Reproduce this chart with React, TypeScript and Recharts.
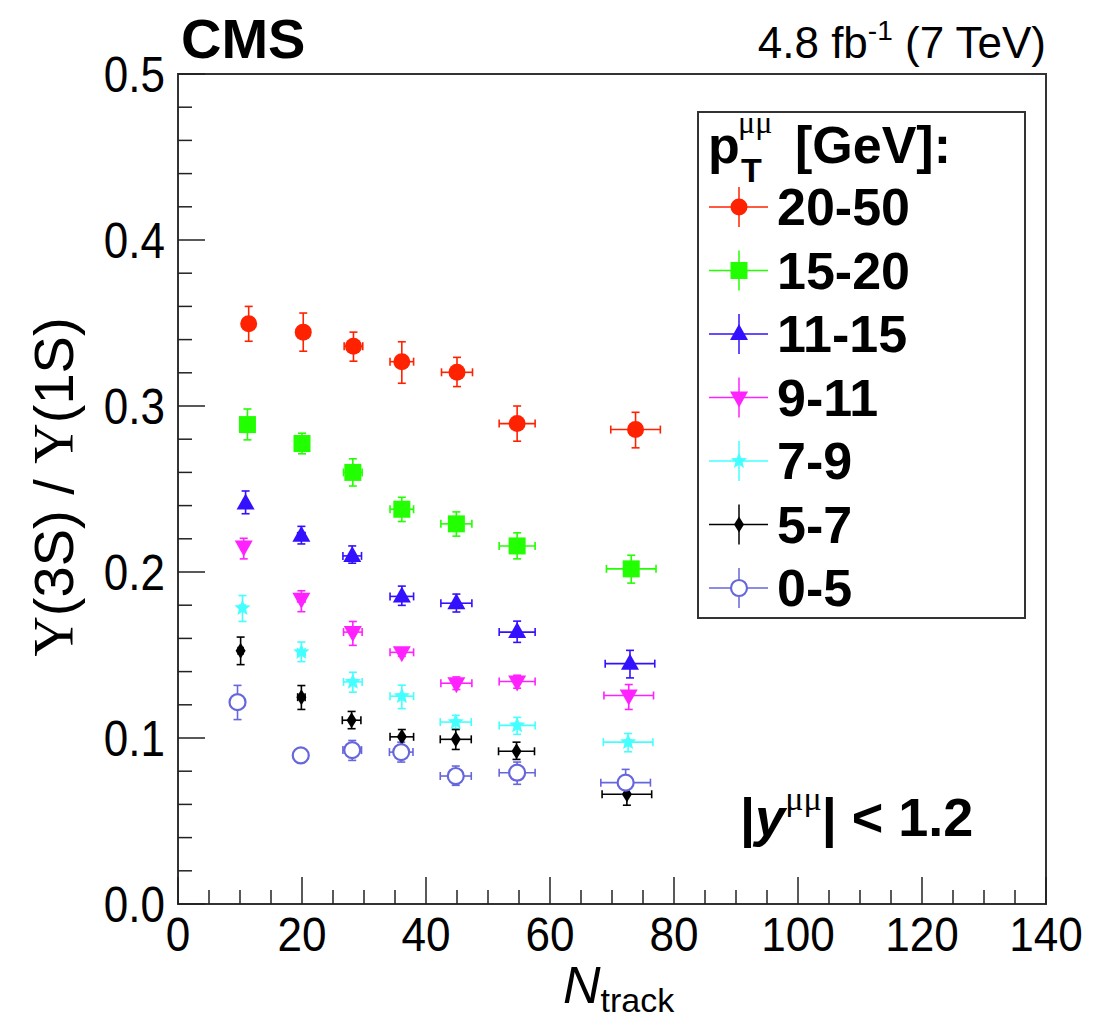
import React from "react";
import { ScatterChart, Scatter, XAxis, YAxis, ErrorBar, ReferenceArea } from "recharts";

// N_track bin half-widths (shared by all pT bins)
const nTrackErr = [0.4, 0.6, 1.5, 1.9, 2.5, 2.9, 4.0];

// pT 20-50
const n2050 = [11.4, 20.2, 28.3, 36.1, 45.0, 54.7, 73.8];
const r2050 = [0.3496, 0.3445, 0.336, 0.3267, 0.3203, 0.2894, 0.2858];
const hi2050 = [0.36, 0.356, 0.3445, 0.3387, 0.3293, 0.3, 0.2962];
const lo2050 = [0.339, 0.333, 0.327, 0.3137, 0.3117, 0.2788, 0.2748];

// pT 15-20
const n1520 = [11.2, 20.0, 28.2, 36.1, 44.9, 54.7, 73.1];
const r1520 = [0.2888, 0.2774, 0.26, 0.2378, 0.229, 0.2157, 0.2019];
const hi1520 = [0.2982, 0.2836, 0.2682, 0.245, 0.2362, 0.2236, 0.2101];
const lo1520 = [0.2796, 0.2712, 0.2518, 0.2304, 0.2216, 0.2079, 0.1933];

// pT 11-15
const n1115 = [10.9, 19.9, 28.1, 36.1, 44.9, 54.7, 72.9];
const r1115 = [0.2413, 0.2218, 0.2097, 0.1853, 0.1812, 0.1638, 0.1448];
const hi1115 = [0.2488, 0.2275, 0.2157, 0.1915, 0.1867, 0.1704, 0.1528];
const lo1115 = [0.2351, 0.2169, 0.2053, 0.1799, 0.1759, 0.1576, 0.1362];

// pT 9-11
const n0911 = [10.6, 19.9, 28.2, 36.1, 44.9, 54.7, 72.7];
const r0911 = [0.2153, 0.1839, 0.1638, 0.1516, 0.133, 0.134, 0.1256];
const hi0911 = [0.2203, 0.1887, 0.1702, 0.1538, 0.1368, 0.1378, 0.1322];
const lo0911 = [0.2079, 0.1761, 0.1558, 0.1492, 0.1292, 0.13, 0.1172];

// pT 7-9
const n0709 = [10.4, 19.9, 28.2, 36.1, 44.8, 54.7, 72.6];
const r0709 = [0.1783, 0.1518, 0.1338, 0.1252, 0.1096, 0.1076, 0.0975];
const hi0709 = [0.1858, 0.1578, 0.1396, 0.1318, 0.1136, 0.1124, 0.1027];
const lo0709 = [0.1702, 0.146, 0.1276, 0.1177, 0.1056, 0.1022, 0.0917];

// pT 5-7
const n0507 = [10.1, 19.9, 28.0, 36.1, 44.8, 54.6, 72.4];
const r0507 = [0.1526, 0.1246, 0.1107, 0.1007, 0.0992, 0.092, 0.0661];
const hi0507 = [0.1608, 0.1316, 0.116, 0.1051, 0.1051, 0.0975, 0.0727];
const lo0507 = [0.1442, 0.1172, 0.1056, 0.0941, 0.0931, 0.0871, 0.0595];

// pT 0-5
const n0005 = [9.6, 19.8, 28.1, 36.0, 44.8, 54.7, 72.2];
const r0005 = [0.1216, 0.0895, 0.0927, 0.0915, 0.0771, 0.0791, 0.0731];
const hi0005 = [0.1317, 0.0925, 0.0985, 0.0975, 0.0831, 0.0855, 0.0811];
const lo0005 = [0.1111, 0.0865, 0.0865, 0.0855, 0.0715, 0.0721, 0.0661];

const xTicks = [0, 5, 10, 15, 20, 25, 30, 35, 40, 45, 50, 55, 60, 65, 70, 75, 80, 85, 90, 95, 100, 105, 110, 115, 120, 125, 130, 135, 140];
const yTicks = [0, 0.02, 0.04, 0.06, 0.08, 0.1, 0.12, 0.14, 0.16, 0.18, 0.2, 0.22, 0.24, 0.26, 0.28, 0.3, 0.32, 0.34, 0.36, 0.38, 0.4, 0.42, 0.44, 0.46, 0.48, 0.5];

type MarkerKind = "circle" | "square" | "triUp" | "triDown" | "star" | "diamond" | "openCircle";

const series: { name: string; color: string; marker: MarkerKind; n: number[]; r: number[]; hi: number[]; lo: number[] }[] = [
  { name: "20-50", color: "#ff2200", marker: "circle", n: n2050, r: r2050, hi: hi2050, lo: lo2050 },
  { name: "15-20", color: "#22ff00", marker: "square", n: n1520, r: r1520, hi: hi1520, lo: lo1520 },
  { name: "11-15", color: "#3311ff", marker: "triUp", n: n1115, r: r1115, hi: hi1115, lo: lo1115 },
  { name: "9-11", color: "#ff22ff", marker: "triDown", n: n0911, r: r0911, hi: hi0911, lo: lo0911 },
  { name: "7-9", color: "#44ffff", marker: "star", n: n0709, r: r0709, hi: hi0709, lo: lo0709 },
  { name: "5-7", color: "#000000", marker: "diamond", n: n0507, r: r0507, hi: hi0507, lo: lo0507 },
  { name: "0-5", color: "#6666dd", marker: "openCircle", n: n0005, r: r0005, hi: hi0005, lo: lo0005 },
];

const FONT = "'Liberation Sans', Arial, Helvetica, sans-serif";
const SERIF = "'Liberation Serif', 'DejaVu Serif', serif";

function Marker({ kind, color, cx, cy }: { kind: MarkerKind; color: string; cx: number; cy: number }) {
  switch (kind) {
    case "circle":
      return <circle cx={cx} cy={cy} r={8.5} fill={color} />;
    case "square":
      return <rect x={cx - 8.5} y={cy - 8.5} width={17} height={17} fill={color} />;
    case "triUp":
      return <polygon points={`${cx},${cy - 10} ${cx + 9},${cy + 6} ${cx - 9},${cy + 6}`} fill={color} />;
    case "triDown":
      return <polygon points={`${cx},${cy + 10} ${cx + 9},${cy - 6} ${cx - 9},${cy - 6}`} fill={color} />;
    case "star": {
      const pts: string[] = [];
      for (let i = 0; i < 10; i++) {
        const a = -Math.PI / 2 + (i * Math.PI) / 5;
        const rr = i % 2 === 0 ? 8.5 : 3.8;
        pts.push(`${cx + rr * Math.cos(a)},${cy + rr * Math.sin(a)}`);
      }
      return <polygon points={pts.join(" ")} fill={color} />;
    }
    case "diamond":
      return <polygon points={`${cx},${cy - 8} ${cx + 5},${cy} ${cx},${cy + 8} ${cx - 5},${cy}`} fill={color} />;
    case "openCircle":
      return <circle cx={cx} cy={cy} r={8} fill="#fff" stroke={color} strokeWidth={2.2} />;
  }
}

function XTick(props: any) {
  const { x, y, payload } = props;
  const v = payload.value as number;
  const major = v % 20 === 0;
  return (
    <g>
      <line x1={x} x2={x} y1={y} y2={y - (major ? 27 : 14)} stroke="#222" strokeWidth={1.5} />
      {major && (
        <text transform={`translate(${x},${y + 47}) scale(0.9,1)`} textAnchor="middle" fontSize={49} fontFamily={FONT} fill="#000">
          {v}
        </text>
      )}
    </g>
  );
}

function YTick(props: any) {
  const { x, y, payload } = props;
  const v = payload.value as number;
  const major = Math.abs(v * 10 - Math.round(v * 10)) < 1e-6;
  return (
    <g>
      <line x1={x} x2={x + (major ? 27 : 14)} y1={y} y2={y} stroke="#222" strokeWidth={1.5} />
      {major && (
        <text transform={`translate(${x - 13},${y + 18}) scale(0.88,1)`} textAnchor="end" fontSize={50} fontFamily={FONT} fill="#000">
          {v.toFixed(1)}
        </text>
      )}
    </g>
  );
}

export default function App() {
  const tables = series.map((s) =>
    s.n.map((n, i) => ({
      n,
      ratio: s.r[i],
      yErr: [s.r[i] - s.lo[i], s.hi[i] - s.r[i]],
      xErr: nTrackErr[i],
    }))
  );

  return (
    <div style={{ position: "absolute", left: 0, top: 0, width: 1112, height: 1019, background: "#fff" }}>
      <ScatterChart width={1112} height={1019} margin={{ top: 74, right: 66, bottom: 0, left: 0 }}>
        <XAxis
          type="number"
          dataKey="n"
          domain={[0, 140]}
          ticks={xTicks}
          interval={0}
          allowDataOverflow
          height={115}
          tickSize={0}
          tickMargin={0}
          tickLine={false}
          axisLine={{ stroke: "#333", strokeWidth: 2 }}
          tick={<XTick />}
        />
        <YAxis
          type="number"
          dataKey="ratio"
          domain={[0, 0.5]}
          ticks={yTicks}
          interval={0}
          allowDataOverflow
          width={178}
          tickSize={0}
          tickMargin={0}
          tickLine={false}
          axisLine={{ stroke: "#333", strokeWidth: 2 }}
          tick={<YTick />}
        />
        <ReferenceArea x1={0} x2={140} y1={0} y2={0.5} fill="none" stroke="#333" strokeWidth={2} ifOverflow="visible" />
        {series.map((s, k) => (
          <Scatter
            key={s.name}
            name={s.name}
            data={tables[k]}
            isAnimationActive={false}
            shape={(p: any) => <Marker kind={s.marker} color={s.color} cx={p.cx} cy={p.cy} />}
          >
            <ErrorBar dataKey="yErr" direction="y" width={4} stroke={s.color} strokeWidth={1.6} isAnimationActive={false} />
            <ErrorBar dataKey="xErr" direction="x" width={4} stroke={s.color} strokeWidth={1.6} isAnimationActive={false} />
          </Scatter>
        ))}
      </ScatterChart>

      <svg width={1112} height={1019} style={{ position: "absolute", left: 0, top: 0, pointerEvents: "none" }}>
        <text x={181} y={58} fontSize={56} fontWeight="bold" fontFamily={FONT}>CMS</text>
        <text x={1046} y={58} fontSize={44} fontFamily={FONT} textAnchor="end">
          4.8 fb<tspan fontSize={28} dy={-18}>-1</tspan>
          <tspan dy={18}> (7 TeV)</tspan>
        </text>

        {/* legend */}
        <rect x={698} y={112} width={327} height={506} fill="#fff" stroke="#333" strokeWidth={2} />
        <text x={708} y={163} fontSize={52} fontWeight="bold" fontFamily={FONT}>p</text>
        <text x={741} y={182} fontSize={34} fontWeight="bold" fontFamily={FONT}>T</text>
        <text x={738} y={133} fontSize={32} fontFamily={SERIF}>μμ</text>
        <text x={795} y={163} fontSize={52} fontWeight="bold" fontFamily={FONT}>[GeV]:</text>
        {series.map((s, i) => {
          const cy = 207 + i * 63.5;
          return (
            <g key={s.name}>
              <line x1={709} x2={768} y1={cy} y2={cy} stroke={s.color} strokeWidth={1.5} />
              <line x1={739} x2={739} y1={cy - 20} y2={cy + 20} stroke={s.color} strokeWidth={1.5} />
              <Marker kind={s.marker} color={s.color} cx={739} cy={cy} />
              <text x={777} y={cy + 18} fontSize={52} fontWeight="bold" fontFamily={FONT}>{s.name}</text>
            </g>
          );
        })}

        <text x={740} y={836} fontSize={54} fontWeight="bold" fontFamily={FONT}>
          |<tspan fontStyle="italic">y</tspan>
          <tspan fontSize={34} fontWeight="normal" fontFamily={SERIF} dy={-26}>μμ</tspan>
          <tspan dy={26}>| &lt; 1.2</tspan>
        </text>

        <text x={563} y={1003} fontFamily={FONT}>
          <tspan fontSize={52} fontStyle="italic">N</tspan>
          <tspan fontSize={34} dy={9}>track</tspan>
        </text>

        <text transform="translate(73,487) rotate(-90)" textAnchor="middle" fontSize={56} fontFamily={FONT}>
          <tspan fontFamily={SERIF}>Υ</tspan>(3S) / <tspan fontFamily={SERIF}>Υ</tspan>(1S)
        </text>
      </svg>
    </div>
  );
}
